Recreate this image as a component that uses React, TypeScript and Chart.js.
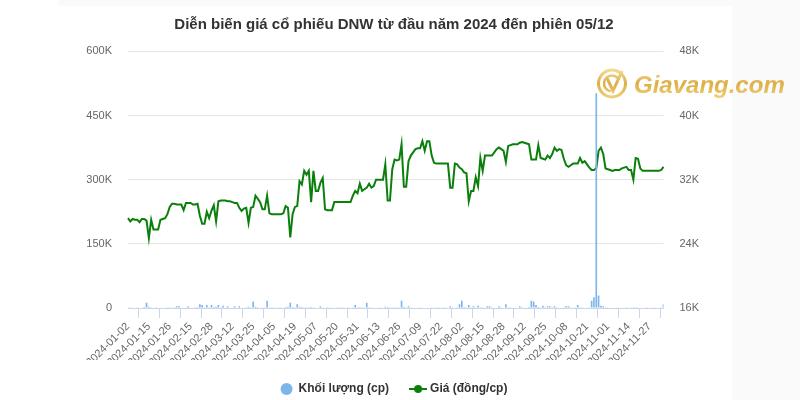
import { useEffect, useRef } from 'react';
import { Chart, registerables } from 'chart.js';

Chart.register(...registerables);

const TITLE = 'Diễn biến giá cổ phiếu DNW từ đầu năm 2024 đến phiên 05/12';
const VOLUME_LABEL = 'Khối lượng (cp)';
const PRICE_LABEL = 'Giá (đồng/cp)';

const dates = [
  '2024-01-02','2024-01-03','2024-01-04','2024-01-05','2024-01-08','2024-01-09','2024-01-10','2024-01-11','2024-01-12','2024-01-15','2024-01-16','2024-01-17','2024-01-18','2024-01-19','2024-01-22','2024-01-23','2024-01-24','2024-01-25','2024-01-26','2024-01-29','2024-01-30','2024-01-31',
  '2024-02-01','2024-02-02','2024-02-05','2024-02-06','2024-02-07','2024-02-15','2024-02-16','2024-02-19','2024-02-20','2024-02-21','2024-02-22','2024-02-23','2024-02-26','2024-02-27','2024-02-28','2024-02-29',
  '2024-03-01','2024-03-04','2024-03-05','2024-03-06','2024-03-07','2024-03-08','2024-03-11','2024-03-12','2024-03-13','2024-03-14','2024-03-15','2024-03-18','2024-03-19','2024-03-20','2024-03-21','2024-03-22','2024-03-25','2024-03-26','2024-03-27','2024-03-28','2024-03-29',
  '2024-04-01','2024-04-02','2024-04-03','2024-04-04','2024-04-05','2024-04-08','2024-04-09','2024-04-10','2024-04-11','2024-04-12','2024-04-15','2024-04-16','2024-04-17','2024-04-19','2024-04-22','2024-04-23','2024-04-24','2024-04-25','2024-04-26',
  '2024-05-02','2024-05-03','2024-05-06','2024-05-07','2024-05-08','2024-05-09','2024-05-10','2024-05-13','2024-05-14','2024-05-15','2024-05-16','2024-05-17','2024-05-20','2024-05-21','2024-05-22','2024-05-23','2024-05-24','2024-05-27','2024-05-28','2024-05-29','2024-05-30','2024-05-31',
  '2024-06-03','2024-06-04','2024-06-05','2024-06-06','2024-06-07','2024-06-10','2024-06-11','2024-06-12','2024-06-13','2024-06-14','2024-06-17','2024-06-18','2024-06-19','2024-06-20','2024-06-21','2024-06-24','2024-06-25','2024-06-26','2024-06-27','2024-06-28',
  '2024-07-01','2024-07-02','2024-07-03','2024-07-04','2024-07-05','2024-07-08','2024-07-09','2024-07-10','2024-07-11','2024-07-12','2024-07-15','2024-07-16','2024-07-17','2024-07-18','2024-07-19','2024-07-22','2024-07-23','2024-07-24','2024-07-25','2024-07-26','2024-07-29','2024-07-30','2024-07-31',
  '2024-08-01','2024-08-02','2024-08-05','2024-08-06','2024-08-07','2024-08-08','2024-08-09','2024-08-12','2024-08-13','2024-08-14','2024-08-15','2024-08-16','2024-08-19','2024-08-20','2024-08-21','2024-08-22','2024-08-23','2024-08-26','2024-08-27','2024-08-28','2024-08-29','2024-08-30',
  '2024-09-04','2024-09-05','2024-09-06','2024-09-09','2024-09-10','2024-09-11','2024-09-12','2024-09-13','2024-09-16','2024-09-17','2024-09-18','2024-09-19','2024-09-20','2024-09-23','2024-09-24','2024-09-25','2024-09-26','2024-09-27','2024-09-30',
  '2024-10-01','2024-10-02','2024-10-03','2024-10-04','2024-10-07','2024-10-08','2024-10-09','2024-10-10','2024-10-11','2024-10-14','2024-10-15','2024-10-16','2024-10-17','2024-10-18','2024-10-21','2024-10-22','2024-10-23','2024-10-24','2024-10-25','2024-10-28','2024-10-29','2024-10-30','2024-10-31',
  '2024-11-01','2024-11-04','2024-11-05','2024-11-06','2024-11-07','2024-11-08','2024-11-11','2024-11-12','2024-11-13','2024-11-14','2024-11-15','2024-11-18','2024-11-19','2024-11-20','2024-11-21','2024-11-22','2024-11-25','2024-11-26','2024-11-27','2024-11-28','2024-11-29',
  '2024-12-02','2024-12-03','2024-12-04','2024-12-05',
];

const tickDates = [
  '2024-01-02','2024-01-15','2024-01-26','2024-02-15','2024-02-28','2024-03-12','2024-03-25','2024-04-05','2024-04-19',
  '2024-05-07','2024-05-20','2024-05-31','2024-06-13','2024-06-26','2024-07-09','2024-07-22','2024-08-02','2024-08-15',
  '2024-08-28','2024-09-12','2024-09-25','2024-10-08','2024-10-21','2024-11-01','2024-11-14','2024-11-27',
];

const prices = [
  27200,26800,27100,27000,27000,26700,27100,27100,26900,24700,
  27000,25800,25800,25800,27000,27100,27200,27700,28600,29000,
  29000,28900,28900,28900,28200,29100,29100,29100,28900,28900,
  29000,27500,26500,26500,28000,27200,28100,28800,26800,29300,
  29400,29400,29400,29300,29300,29200,29100,29100,28500,28100,
  28400,28500,26600,28500,28600,30000,29600,29200,28300,28300,
  30000,27800,27700,27700,27700,27700,27700,27800,28700,28500,
  24800,27700,28600,28700,31800,31400,33100,32600,33100,29200,
  33100,30600,30600,31600,32200,28300,28200,28200,28200,29200,
  29200,29200,29200,29200,29200,29200,29200,30000,30600,30300,
  31500,30600,30800,31000,31500,31000,31200,32000,32000,32000,
  32000,33900,29400,29400,33300,34500,34400,34500,36400,31100,
  31100,34300,35000,35400,35800,35900,35900,36800,35600,36800,
  36800,35000,34100,34000,34000,34000,34000,34000,34000,31000,
  31000,34000,33900,33500,33300,32900,32800,29300,30600,30600,
  32300,31200,34700,33100,35000,35000,35000,35000,35400,35800,
  36000,35800,35600,34200,36200,36300,36400,36400,36400,36600,
  36700,36600,36500,36400,34500,34500,34500,36300,34700,34600,
  34500,35000,34700,35200,36000,35600,35800,35700,34600,33800,
  33600,33800,34000,34000,34000,34700,34100,34300,33900,33500,
  33200,33200,33400,35600,36000,35200,33400,33300,33200,33100,
  33200,33200,33200,33400,33500,33600,33200,33200,32000,34700,
  34600,33400,33100,33100,33100,33100,33100,33100,33100,33100,
  33200,33600,
];

const volumes = [
  2000,1500,1200,900,1800,1100,1300,2200,12000,3000,
  1500,1000,800,1200,900,1000,1400,1600,2000,1200,
  1500,4000,4000,1300,1100,1500,4000,1200,900,1500,
  2500,9000,7000,2000,7000,1800,7000,2500,3000,7000,
  2000,5000,1500,4000,1200,1000,4000,1400,4000,1200,
  1000,1500,3000,1800,15000,3000,1500,1200,2000,1500,
  17000,2000,800,700,900,600,800,1000,2500,3000,
  12000,2500,2000,9000,3000,2500,2000,1500,2000,2500,
  1500,1200,1000,4000,1500,1200,800,700,900,1000,
  600,700,800,600,900,700,1000,2000,7000,1500,
  2500,1800,1500,12000,2000,1500,1200,1000,900,800,
  1200,3000,2500,1500,2000,1800,1500,2000,17000,3000,
  1500,4000,1500,1200,1000,1300,1500,1200,1000,900,
  1100,1500,1000,800,700,900,800,700,1000,4000,
  1500,1200,2000,9000,17000,2500,2000,7000,2000,4000,
  1500,5000,2000,1500,1200,4000,4000,1500,1200,1000,
  4000,1500,1200,9000,2000,1500,1000,900,1200,4000,
  1500,1000,1200,2500,17000,15000,7000,2500,2000,5000,
  1500,4000,4000,1500,4000,1500,1200,1000,1500,4000,
  4000,1500,1200,1500,7000,2000,1500,1200,1000,1500,
  17000,25000,502000,29000,5000,4000,2000,1500,1000,1200,
  900,800,1000,1200,1000,1500,1200,1500,2000,1800,
  1500,1200,1000,900,800,1000,900,800,1000,1200,
  1500,9000,
];

const volumeTicks = [0, 150000, 300000, 450000, 600000];
const priceTicks = [16000, 24000, 32000, 40000, 48000];

const BAR_COLOR = '#7cb5ec';
const LINE_COLOR = '#0b7f0b';
const FONT = "'Liberation Sans', Arial, sans-serif";

const fmtK = (v: number) => (v === 0 ? '0' : `${Math.round(v / 1000)}K`);

const backgroundPlugin = {
  id: 'pageBackground',
  beforeDraw(chart: any) {
    const { ctx, width, height } = chart;
    ctx.save();
    ctx.fillStyle = '#ffffff';
    ctx.fillRect(0, 0, width, height);
    ctx.fillStyle = '#fafafa';
    ctx.fillRect(732, 0, width - 732, height);
    ctx.fillRect(58, 0, 732 - 58, 6);
    ctx.restore();
  },
};

const watermarkPlugin = {
  id: 'watermark',
  afterDraw(chart: any) {
    const ctx = chart.ctx as CanvasRenderingContext2D;
    ctx.save();
    const g = ctx.createLinearGradient(0, 68, 0, 99);
    g.addColorStop(0, '#f7e09a');
    g.addColorStop(0.5, '#dcae45');
    g.addColorStop(1, '#f1d27c');
    ctx.strokeStyle = g;
    ctx.lineWidth = 3;
    ctx.beginPath();
    ctx.arc(612, 83.5, 13.5, 0, Math.PI * 2);
    ctx.stroke();
    ctx.lineWidth = 2.4;
    ctx.beginPath();
    ctx.arc(612, 83.5, 8, Math.PI * 0.55, Math.PI * 1.85);
    ctx.stroke();
    ctx.lineWidth = 3;
    ctx.beginPath();
    ctx.moveTo(607, 78);
    ctx.lineTo(613, 91);
    ctx.lineTo(622, 71);
    ctx.stroke();
    ctx.font = `italic bold 24px ${FONT}`;
    ctx.fillStyle = g;
    ctx.textBaseline = 'alphabetic';
    ctx.textAlign = 'left';
    ctx.fillText('Giavang.com', 634, 93);
    ctx.restore();
  },
};

export default function App() {
  const ref = useRef<HTMLCanvasElement>(null);

  useEffect(() => {
    document.body.style.margin = '0';
    const lineSymbol = document.createElement('canvas');
    lineSymbol.width = 18;
    lineSymbol.height = 10;
    const c = lineSymbol.getContext('2d')!;
    c.strokeStyle = LINE_COLOR;
    c.lineWidth = 2;
    c.beginPath();
    c.moveTo(0, 5);
    c.lineTo(18, 5);
    c.stroke();
    c.fillStyle = LINE_COLOR;
    c.beginPath();
    c.arc(9, 5, 4, 0, Math.PI * 2);
    c.fill();

    Chart.defaults.font.family = FONT;

    const chart = new Chart(ref.current!, {
      type: 'bar',
      data: {
        labels: dates,
        datasets: [
          {
            type: 'bar',
            label: VOLUME_LABEL,
            data: volumes,
            yAxisID: 'yVol',
            backgroundColor: BAR_COLOR,
            barPercentage: 0.7,
            categoryPercentage: 1,
            order: 0,
          } as any,
          {
            type: 'line',
            label: PRICE_LABEL,
            data: prices,
            yAxisID: 'yPrice',
            borderColor: LINE_COLOR,
            backgroundColor: LINE_COLOR,
            borderWidth: 2,
            pointRadius: 0,
            tension: 0,
            order: 1,
          } as any,
        ],
      },
      options: {
        responsive: false,
        animation: false,
        devicePixelRatio: 1,
        layout: { padding: { top: 0, left: 0, right: 12, bottom: -5 } },
        scales: {
          x: {
            type: 'category',
            offset: false,
            grid: {
              display: true,
              drawOnChartArea: false,
              drawTicks: true,
              tickLength: 10,
              color: '#ccd6eb',
            },
            border: { display: true, color: '#ccd6eb' },
            ticks: {
              autoSkip: false,
              maxRotation: 45,
              minRotation: 45,
              padding: 2,
              color: '#666666',
              font: { size: 11 },
              callback: (_v: any, i: number) => (tickDates.includes(dates[i]) ? dates[i] : null),
            },
            afterFit: (s: any) => {
              s.height = 52;
            },
          },
          yVol: {
            type: 'linear',
            position: 'left',
            min: volumeTicks[0],
            max: volumeTicks[volumeTicks.length - 1],
            afterBuildTicks: (s: any) => {
              s.ticks = volumeTicks.map((v) => ({ value: v }));
            },
            grid: { color: '#e6e6e6', drawTicks: false },
            border: { display: false },
            ticks: {
              padding: 16,
              color: '#666666',
              font: { size: 11 },
              callback: (v: any) => fmtK(Number(v)),
            },
            afterFit: (s: any) => {
              s.width = 128;
            },
          },
          yPrice: {
            type: 'linear',
            position: 'right',
            min: priceTicks[0],
            max: priceTicks[priceTicks.length - 1],
            afterBuildTicks: (s: any) => {
              s.ticks = priceTicks.map((v) => ({ value: v }));
            },
            grid: { drawOnChartArea: false, drawTicks: false },
            border: { display: false },
            ticks: {
              padding: 16,
              color: '#666666',
              font: { size: 11 },
              callback: (v: any) => fmtK(Number(v)),
            },
            afterFit: (s: any) => {
              s.width = 124.5;
            },
          },
        },
        plugins: {
          title: {
            display: true,
            text: TITLE,
            color: '#333333',
            font: { size: 15, weight: 'bold' },
            padding: { top: 16, bottom: 17.3 },
          },
          tooltip: { enabled: false },
          legend: {
            display: true,
            position: 'bottom',
            labels: {
              usePointStyle: true,
              pointStyleWidth: 12,
              boxHeight: 8.5,
              padding: 23,
              color: '#333333',
              font: { size: 12, weight: 'bold' },
              generateLabels: (ch: any) =>
                ch.data.datasets.map((ds: any, i: number) => ({
                  text: ds.label,
                  datasetIndex: i,
                  fillStyle: i === 0 ? BAR_COLOR : LINE_COLOR,
                  strokeStyle: 'rgba(0,0,0,0)',
                  lineWidth: 0,
                  pointStyle: i === 0 ? 'circle' : lineSymbol,
                  hidden: false,
                  fontColor: '#333333',
                })),
            },
          },
        },
      },
      plugins: [backgroundPlugin, watermarkPlugin],
    } as any);

    return () => chart.destroy();
  }, []);

  return (
    <div style={{ position: 'absolute', left: 0, top: 0, width: 800, height: 400 }}>
      <canvas ref={ref} width={800} height={400} style={{ display: 'block' }} />
    </div>
  );
}
